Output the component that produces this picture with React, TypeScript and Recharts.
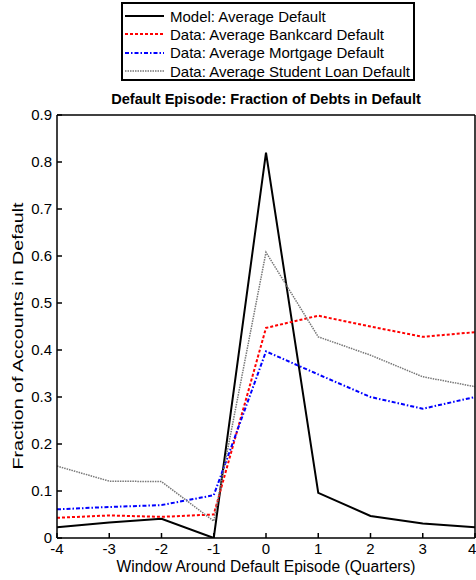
import { LineChart, Line, XAxis, YAxis, Legend } from "recharts";

const quarters = [-4, -3, -2, -1, 0, 1, 2, 3, 4];
const modelDefault = [0.023, 0.033, 0.041, 0, 0.82, 0.096, 0.047, 0.031, 0.023];
const bankcardDefault = [0.043, 0.048, 0.045, 0.05, 0.447, 0.473, 0.45, 0.428, 0.438];
const mortgageDefault = [0.061, 0.066, 0.07, 0.091, 0.397, 0.348, 0.3, 0.275, 0.3];
const studentLoanDefault = [0.153, 0.121, 0.12, 0.036, 0.608, 0.428, 0.389, 0.343, 0.322];
const yTicks = [0, 0.1, 0.2, 0.3, 0.4, 0.5, 0.6, 0.7, 0.8, 0.9];

const data = quarters.map((q, i) => ({
  q,
  model: modelDefault[i],
  bankcard: bankcardDefault[i],
  mortgage: mortgageDefault[i],
  student: studentLoanDefault[i],
}));

const font = "Arial, 'Liberation Sans', sans-serif";

const series = [
  { key: "model", name: "Model: Average Default", color: "#000000", width: 2, dash: undefined },
  { key: "bankcard", name: "Data: Average Bankcard Default", color: "#ff0000", width: 2, dash: "3 2" },
  { key: "mortgage", name: "Data: Average Mortgage Default", color: "#0000ff", width: 2, dash: "4 2 1.5 2" },
  { key: "student", name: "Data: Average Student Loan Default", color: "#777777", width: 1.5, dash: "1.5 1" },
];

function LegendBox() {
  return (
    <div
      style={{
        width: 290,
        height: 72,
        border: "2px solid #000",
        background: "#fff",
        fontFamily: font,
        fontSize: 15,
        color: "#000",
        paddingTop: 3,
        boxSizing: "content-box",
      }}
    >
      {series.map((s) => (
        <div key={s.key} style={{ display: "flex", alignItems: "center", height: 18.3 }}>
          <svg width={45} height={10} style={{ marginLeft: 2 }}>
            <line x1={0} y1={5} x2={39} y2={5} stroke={s.color} strokeWidth={s.width} strokeDasharray={s.dash} />
          </svg>
          <span style={{ whiteSpace: "nowrap" }}>{s.name}</span>
        </div>
      ))}
    </div>
  );
}

export default function App() {
  return (
    <div style={{ position: "relative", width: 476, height: 580, background: "#fff" }}>
      <style>{"body{margin:0}"}</style>
      <LineChart
        width={476}
        height={580}
        data={data}
        margin={{ top: 114, right: 0, bottom: 0, left: 0 }}
      >
        <XAxis
          dataKey="q"
          type="number"
          domain={[-4, 4]}
          ticks={quarters}
          height={42}
          tickSize={-5}
          tickMargin={10}
          stroke="#000"
          strokeWidth={1.5}
          tick={{ fill: "#000", fontSize: 15, fontFamily: font }}
          allowDataOverflow
        />
        <XAxis
          xAxisId="top"
          orientation="top"
          dataKey="q"
          type="number"
          domain={[-4, 4]}
          ticks={quarters}
          height={1}
          tickSize={-5}
          stroke="#000"
          strokeWidth={1.5}
          tick={false}
          allowDataOverflow
        />
        <YAxis
          type="number"
          domain={[0, 0.9]}
          ticks={yTicks}
          width={57}
          tickSize={-5}
          tickMargin={10}
          stroke="#000"
          strokeWidth={1.5}
          tick={{ fill: "#000", fontSize: 15, fontFamily: font }}
          allowDataOverflow
        />
        <YAxis
          yAxisId="right"
          orientation="right"
          type="number"
          domain={[0, 0.9]}
          ticks={yTicks}
          width={1}
          tickSize={-5}
          stroke="#000"
          strokeWidth={1.5}
          tick={false}
          allowDataOverflow
        />
        <Legend
          layout="vertical"
          align="center"
          verticalAlign="middle"
          wrapperStyle={{ top: 2, left: 121, width: 294 }}
          content={() => <LegendBox />}
        />
        {series.map((s) => (
          <Line
            key={s.key}
            type="linear"
            dataKey={s.key}
            name={s.name}
            stroke={s.color}
            strokeWidth={s.width}
            strokeDasharray={s.dash}
            dot={false}
            activeDot={false}
            isAnimationActive={false}
          />
        ))}
      </LineChart>
      <div
        style={{
          position: "absolute",
          top: 91,
          left: 57,
          width: 418,
          textAlign: "center",
          fontFamily: font,
          fontWeight: "bold",
          fontSize: 14.6,
        }}
      >
        Default Episode: Fraction of Debts in Default
      </div>
      <div
        style={{
          position: "absolute",
          top: 558,
          left: 57,
          width: 418,
          textAlign: "center",
          fontFamily: font,
          fontSize: 15.6,
        }}
      >
        Window Around Default Episode (Quarters)
      </div>
      <div
        style={{
          position: "absolute",
          top: 336,
          left: 18,
          width: 300,
          marginLeft: -150,
          marginTop: -9,
          textAlign: "center",
          fontFamily: font,
          fontSize: 15.5,
          lineHeight: "18px",
          transform: "rotate(-90deg) scaleX(1.27)",
          whiteSpace: "nowrap",
        }}
      >
        Fraction of Accounts in Default
      </div>
    </div>
  );
}
